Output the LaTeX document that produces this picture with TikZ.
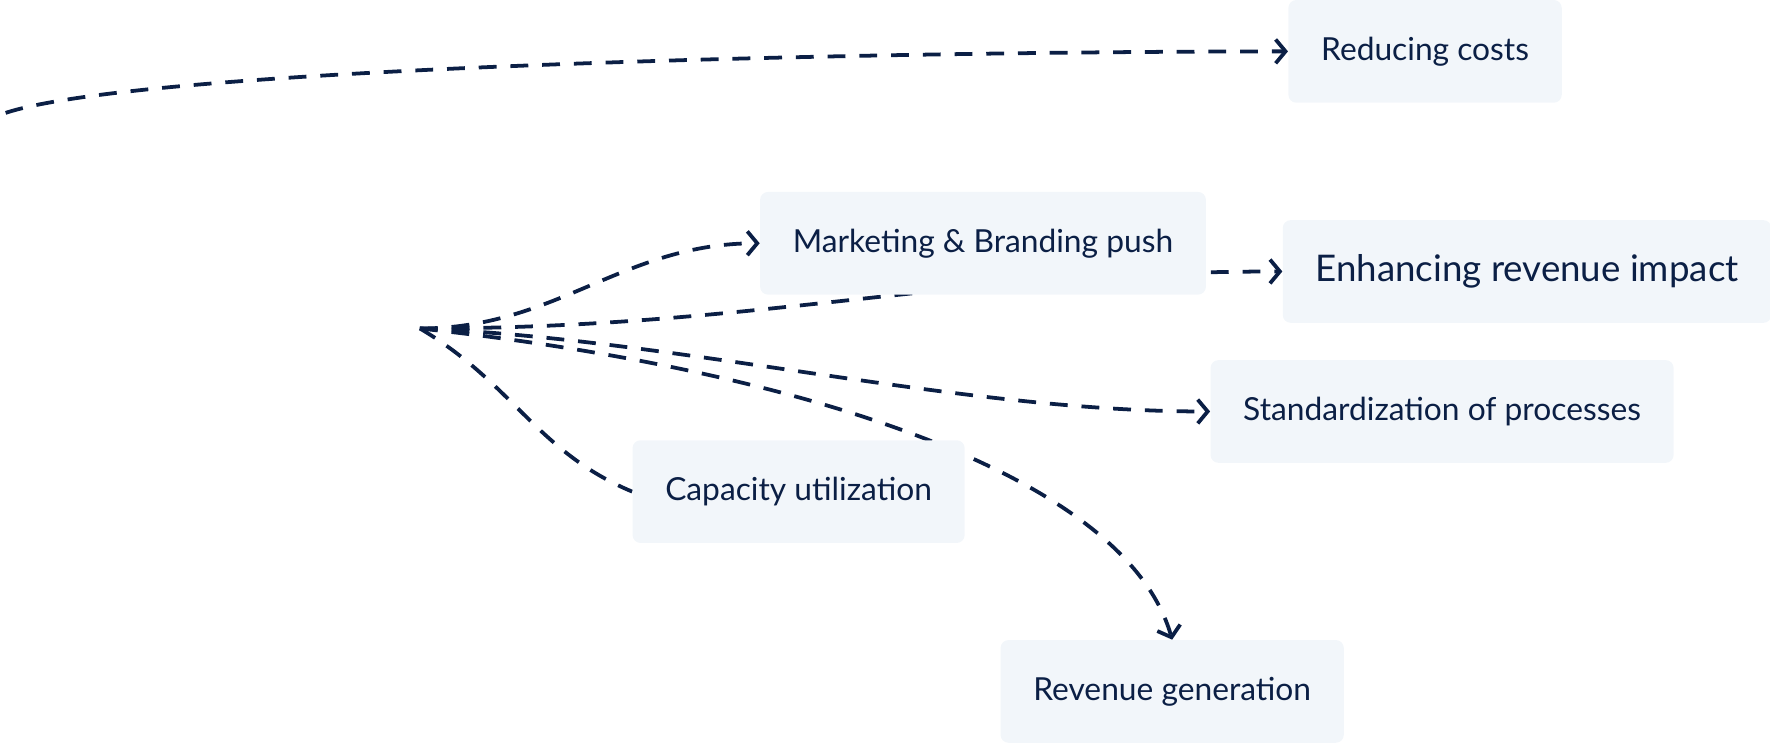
\documentclass[tikz,border=0pt]{standalone}
\usepackage{fontspec}
\setmainfont{Lato}
\usetikzlibrary{arrows.meta}
\definecolor{ink}{HTML}{0B1F45}
\definecolor{boxfill}{HTML}{F2F6FA}
\pgfdeclarelayer{bg}
\pgfsetlayers{bg,main}
\begin{document}
\begin{tikzpicture}[x=0.02cm,y=-0.02cm,
  item/.style={fill=boxfill,rounded corners=4pt,text=ink,inner xsep=0.58cm,
    minimum height=1.82cm,anchor=west,font=\fontsize{16}{18}\selectfont},
  link/.style={draw=ink,line width=1.9pt,dash pattern=on 9pt off 7pt,
    -{Straight Barb[length=5pt,width=12pt]}}]
  \useasboundingbox (0,0) rectangle (1568,659);
  % boxes
  \node[item] (costs) at (1141,45.5) {Reducing costs};
  \node[item] (brand) at (673,215.5) {Marketing \& Branding push};
  \node[item,font=\fontsize{18.5}{20}\selectfont] (impact) at (1136,240.5) {Enhancing revenue impact};
  \node[item] (standard) at (1072,364.5) {Standardization of processes};
  \node[item] (capacity) at (560,435.5) {Capacity utilization};
  \node[item] (revgen) at (886,612.5) {Revenue generation};
  \coordinate (start) at (5,100);
  \coordinate (hub) at (372,291);
  % connectors, under the boxes
  \begin{pgfonlayer}{bg}
    \draw[link] (start) .. controls (120,62) and (700,46) .. (costs.west);
    \draw[link] (hub) to[out=0,in=180] (brand.west);
    \draw[link] (hub) to[out=0,in=180] (impact.west);
    \draw[link] (hub) .. controls (600,300) and (850,365) .. (standard.west);
    \draw[link,-] (hub) .. controls (455,340) and (475,400) .. (capacity.west);
    \draw[link] (hub) .. controls (690,325) and (995,415) .. (revgen.north);
  \end{pgfonlayer}
\end{tikzpicture}
\end{document}
